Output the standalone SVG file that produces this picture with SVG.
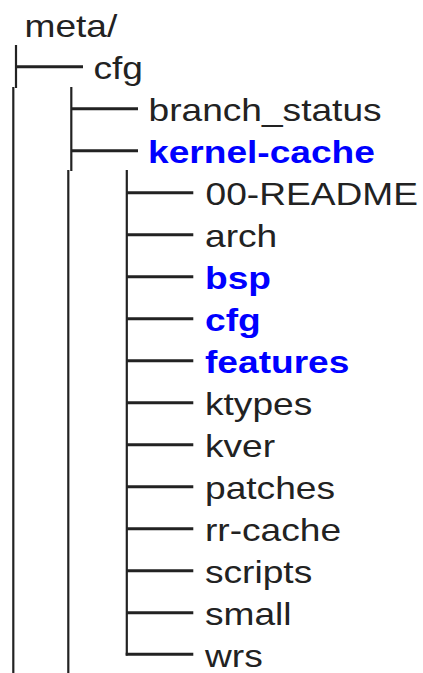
<svg xmlns="http://www.w3.org/2000/svg" width="423" height="673" viewBox="0 0 423 673">
<style>
text{font-family:"Liberation Sans",Arial,sans-serif;font-size:32px;fill:#222}
.d{font-weight:bold;fill:#0000ff}
.h{stroke:#222;stroke-width:3;fill:none}
.v{stroke:#222;stroke-width:2.2;fill:none}
</style>
<rect width="423" height="673" fill="#fff"/>
<g id="connectors">
<line class="v" x1="16" y1="45" x2="16" y2="88"/>
<line class="h" x1="16" y1="66.7" x2="83" y2="66.7"/>
<line class="v" x1="13.3" y1="87" x2="13.3" y2="673"/>
<line class="v" x1="71.3" y1="87" x2="71.3" y2="171"/>
<line class="h" x1="71.3" y1="108.7" x2="138" y2="108.7"/>
<line class="h" x1="71.3" y1="150.7" x2="138" y2="150.7"/>
<line class="v" x1="68.3" y1="170" x2="68.3" y2="673"/>
<line class="v" x1="126.8" y1="170" x2="126.8" y2="655.5"/>
<line class="h" x1="126.8" y1="192.7" x2="193.3" y2="192.7"/>
<line class="h" x1="126.8" y1="234.7" x2="193.3" y2="234.7"/>
<line class="h" x1="126.8" y1="276.7" x2="193.3" y2="276.7"/>
<line class="h" x1="126.8" y1="318.7" x2="193.3" y2="318.7"/>
<line class="h" x1="126.8" y1="360.7" x2="193.3" y2="360.7"/>
<line class="h" x1="126.8" y1="402.7" x2="193.3" y2="402.7"/>
<line class="h" x1="126.8" y1="444.7" x2="193.3" y2="444.7"/>
<line class="h" x1="126.8" y1="486.7" x2="193.3" y2="486.7"/>
<line class="h" x1="126.8" y1="528.7" x2="193.3" y2="528.7"/>
<line class="h" x1="126.8" y1="570.7" x2="193.3" y2="570.7"/>
<line class="h" x1="126.8" y1="612.7" x2="193.3" y2="612.7"/>
<line class="h" x1="125.7" y1="654.3" x2="193.3" y2="654.3"/>
</g>
<g id="meta"><text transform="translate(24.5,37) scale(1.16,1)">meta/</text></g>
<g id="cfg"><text transform="translate(93.5,79) scale(1.16,1)">cfg</text></g>
<g id="branch_status"><text transform="translate(148.5,121) scale(1.16,1)">branch_status</text></g>
<g id="kernel-cache"><text class="d" transform="translate(148,163) scale(1.16,1)">kernel-cache</text></g>
<g id="readme"><text transform="translate(205.5,205) scale(1.16,1)">00-README</text></g>
<g id="arch"><text transform="translate(205,247) scale(1.16,1)">arch</text></g>
<g id="bsp"><text class="d" transform="translate(205,289) scale(1.16,1)">bsp</text></g>
<g id="cfg2"><text class="d" transform="translate(205,331) scale(1.16,1)">cfg</text></g>
<g id="features"><text class="d" transform="translate(205,373) scale(1.16,1)">features</text></g>
<g id="ktypes"><text transform="translate(205,415) scale(1.16,1)">ktypes</text></g>
<g id="kver"><text transform="translate(205,457) scale(1.16,1)">kver</text></g>
<g id="patches"><text transform="translate(205,499) scale(1.16,1)">patches</text></g>
<g id="rr-cache"><text transform="translate(205,541) scale(1.16,1)">rr-cache</text></g>
<g id="scripts"><text transform="translate(205,583) scale(1.16,1)">scripts</text></g>
<g id="small"><text transform="translate(205,625) scale(1.16,1)">small</text></g>
<g id="wrs"><text transform="translate(205,667) scale(1.16,1)">wrs</text></g>
</svg>
